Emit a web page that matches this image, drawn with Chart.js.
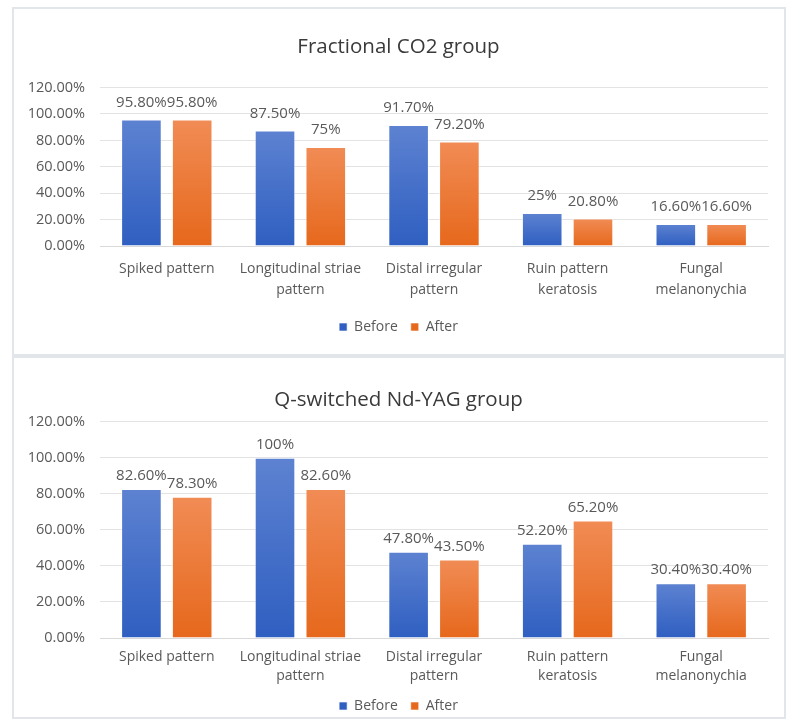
<!DOCTYPE html>
<html>
<head>
<meta charset="utf-8">
<script src="https://cdn.jsdelivr.net/npm/chart.js@4.4.0/dist/chart.umd.min.js"></script>
<style>
  body { margin: 0; background: #fff; width: 798px; height: 728px; position: relative; overflow: hidden; }
  .box { position: absolute; left: 12px; width: 774px; border: 2px solid #e2e6eb; box-sizing: border-box; }
  #box1 { top: 7px; height: 349px; }
  #box2 { top: 356px; height: 363px; }
  .wrap { position: absolute; left: 14px; width: 770px; }
  #wrap1 { top: 9px; height: 335px; }
  #wrap2 { top: 358px; height: 365px; }
</style>
</head>
<body>
<div class="box" id="box1"></div>
<div class="box" id="box2"></div>
<div class="wrap" id="wrap1"><canvas id="co2Chart"></canvas></div>
<div class="wrap" id="wrap2"><canvas id="yagChart"></canvas></div>
<script>
// categories shared by both charts
const categories = [
    'Spiked pattern',
    ['Longitudinal striae', 'pattern'],
    ['Distal irregular', 'pattern'],
    ['Ruin pattern', 'keratosis'],
    ['Fungal', 'melanonychia']
];
const yTicks = [0, 20, 40, 60, 80, 100, 120];

// Fractional CO2 group (%)
const co2Before = [95.8, 87.5, 91.7, 25, 16.6];
const co2After = [95.8, 75, 79.2, 20.8, 16.6];

// Q-switched Nd-YAG group (%)
const yagBefore = [82.6, 100, 47.8, 52.2, 30.4];
const yagAfter = [78.3, 82.6, 43.5, 65.2, 30.4];

const FONT = "'Open Sans', sans-serif";
const GREY = '#595959';

function pctLabel(v) {
    return Number.isInteger(v) ? v + '%' : v.toFixed(2) + '%';
}

// vertical gradient per bar, lighter at the top
function barFill(top, bottom) {
    return function (ctx) {
        const chart = ctx.chart;
        const ys = chart.scales.y;
        if (!chart.chartArea || !ys || ctx.raw === undefined) return bottom;
        const y0 = ys.getPixelForValue(ctx.raw);
        const y1 = ys.getPixelForValue(0);
        const g = chart.ctx.createLinearGradient(0, y0, 0, y1);
        g.addColorStop(0, top);
        g.addColorStop(1, bottom);
        return g;
    };
}

// value labels above the bars
const valueLabels = {
    id: 'valueLabels',
    afterDatasetsDraw(chart, args, opts) {
        const c = chart.ctx;
        c.save();
        c.font = '15px ' + FONT;
        c.fillStyle = GREY;
        c.textAlign = 'center';
        c.textBaseline = 'bottom';
        chart.data.datasets.forEach((ds, i) => {
            chart.getDatasetMeta(i).data.forEach((bar, j) => {
                c.fillText(pctLabel(ds.data[j]), bar.x, bar.y - opts.offset);
            });
        });
        c.restore();
    }
};

function makeChart(id, title, before, after, o) {
    return new Chart(document.getElementById(id), {
        type: 'bar',
        data: {
            labels: categories,
            datasets: [
                {
                    label: 'Before',
                    data: before,
                    backgroundColor: barFill('#5d82d1', '#2f5fc1'),
                    borderColor: 'rgba(255,255,255,0.6)',
                    borderWidth: 1,
                    categoryPercentage: 0.76,
                    barPercentage: 0.8
                },
                {
                    label: 'After',
                    data: after,
                    backgroundColor: barFill('#f18c55', '#e6681c'),
                    borderColor: 'rgba(255,255,255,0.6)',
                    borderWidth: 1,
                    categoryPercentage: 0.76,
                    barPercentage: 0.8
                }
            ]
        },
        options: {
            responsive: true,
            maintainAspectRatio: false,
            animation: false,
            layout: { padding: { left: 15, right: 16, top: 0, bottom: 0 } },
            plugins: {
                title: {
                    display: true,
                    text: title,
                    color: '#3a3a3a',
                    font: { family: FONT, size: 20.5, weight: 'normal' },
                    padding: o.titlePadding
                },
                legend: {
                    position: 'bottom',
                    labels: {
                        boxWidth: 8,
                        boxHeight: 8,
                        color: GREY,
                        font: { family: FONT, size: 14 },
                        padding: 13
                    }
                },
                tooltip: { enabled: false },
                valueLabels: { offset: o.labelOffset }
            },
            scales: {
                x: {
                    grid: { display: false, drawTicks: false },
                    border: { color: '#d9d9d9' },
                    afterFit: (axis) => { axis.height = o.xHeight; },
                    ticks: {
                        color: GREY,
                        font: { family: FONT, size: 14, lineHeight: o.xLine },
                        padding: o.xPad,
                        maxRotation: 0
                    }
                },
                y: {
                    min: 0,
                    max: 120,
                    afterBuildTicks: (axis) => { axis.ticks = yTicks.map(v => ({ value: v })); },
                    afterFit: (axis) => { axis.width = 71; },
                    grid: { color: '#e3e3e3', drawTicks: false },
                    border: { display: false },
                    ticks: {
                        color: GREY,
                        font: { family: FONT, size: 14.5 },
                        padding: 15,
                        callback: (v) => v.toFixed(2) + '%'
                    }
                }
            }
        },
        plugins: [valueLabels]
    });
}

makeChart('co2Chart', 'Fractional CO2 group', co2Before, co2After, {
    titlePadding: { top: 26, bottom: 28 },
    xPad: 13,
    xLine: 1.5,
    xHeight: 61,
    labelOffset: 9.5
});
makeChart('yagChart', 'Q-switched Nd-YAG group', yagBefore, yagAfter, {
    titlePadding: { top: 30, bottom: 9 },
    xPad: 10,
    xLine: 19 / 14,
    xHeight: 48,
    labelOffset: 5.5
});
</script>
</body>
</html>
